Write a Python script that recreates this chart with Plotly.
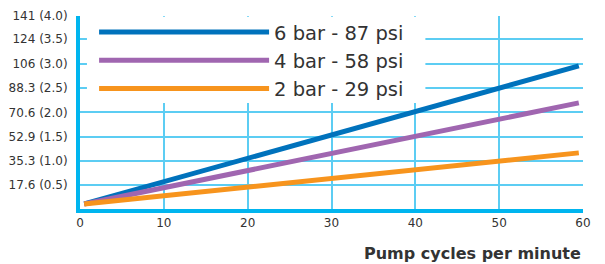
import plotly.graph_objects as go

# Data
series_names = ["6 bar - 87 psi", "4 bar - 58 psi", "2 bar - 29 psi"]
x_cycles = [0.5, 59.5]
flow_6bar = [3.7, 104.5]
flow_4bar = [3.7, 77.5]
flow_2bar = [3.7, 41]
colors = ["#0072bc", "#a066b0", "#f7941d"]

y_tickvals = [17.6, 35.3, 52.9, 70.6, 88.3, 106, 124, 141]
y_ticktext = ["17.6 (0.5)", "35.3 (1.0)", "52.9 (1.5)", "70.6 (2.0)",
              "88.3 (2.5)", "106 (3.0)", "124 (3.5)", "141 (4.0)"]
x_tickvals = [0, 10, 20, 30, 40, 50, 60]
x_ticktext = ["0", "10", "20", "30", "40", "50", "60"]
x_title = "Pump cycles per minute"

AXIS = "#00b5ef"
GRID = "#5ccdf3"
FONT = "DejaVu Sans"

fig = go.Figure()
for name, ys, c in zip(series_names, [flow_6bar, flow_4bar, flow_2bar], colors):
    fig.add_trace(go.Scatter(x=x_cycles, y=ys, mode="lines", name=name,
                             line=dict(color=c, width=5)))

# page has an 8px body margin, so the figure is sized to fit the window
fig.update_layout(
    width=597, height=256,
    margin=dict(l=72, r=22, t=8, b=55, autoexpand=False),
    plot_bgcolor="white", paper_bgcolor="white",
    font=dict(family=FONT, color="#333333", size=12),
    showlegend=True,
    legend=dict(x=0.028, y=1.017, xanchor="left", yanchor="top",
                bgcolor="rgba(0,0,0,0)", borderwidth=0,
                font=dict(size=19.5, color="#333333", family=FONT),
                itemwidth=170, tracegroupgap=0),
    # white panel behind the legend, hiding gridlines (between grid and traces)
    shapes=[dict(type="rect", xref="x", yref="y",
                 x0=0.83, x1=41.2, y0=77.4, y1=140.4,
                 fillcolor="white", line=dict(width=0), layer="between")],
    annotations=[dict(text="<b>" + x_title + "</b>", xref="paper", yref="paper",
                      x=1.0, y=-0.172, xanchor="right", yanchor="top",
                      showarrow=False, font=dict(size=16, color="#333333", family=FONT))],
)
fig.update_xaxes(range=[0, 60], tickvals=x_tickvals, ticktext=x_ticktext,
                 showgrid=True, gridcolor=GRID, gridwidth=1.5,
                 showline=True, linecolor=AXIS, linewidth=4, zeroline=False,
                 ticks="", fixedrange=True)
fig.update_yaxes(range=[0, 141], tickvals=y_tickvals, ticktext=y_ticktext,
                 showgrid=True, gridcolor=GRID, gridwidth=1.5,
                 showline=True, linecolor=AXIS, linewidth=4, zeroline=False,
                 ticks="", ticklabelstandoff=6, fixedrange=True)

fig.write_html("out.html")
